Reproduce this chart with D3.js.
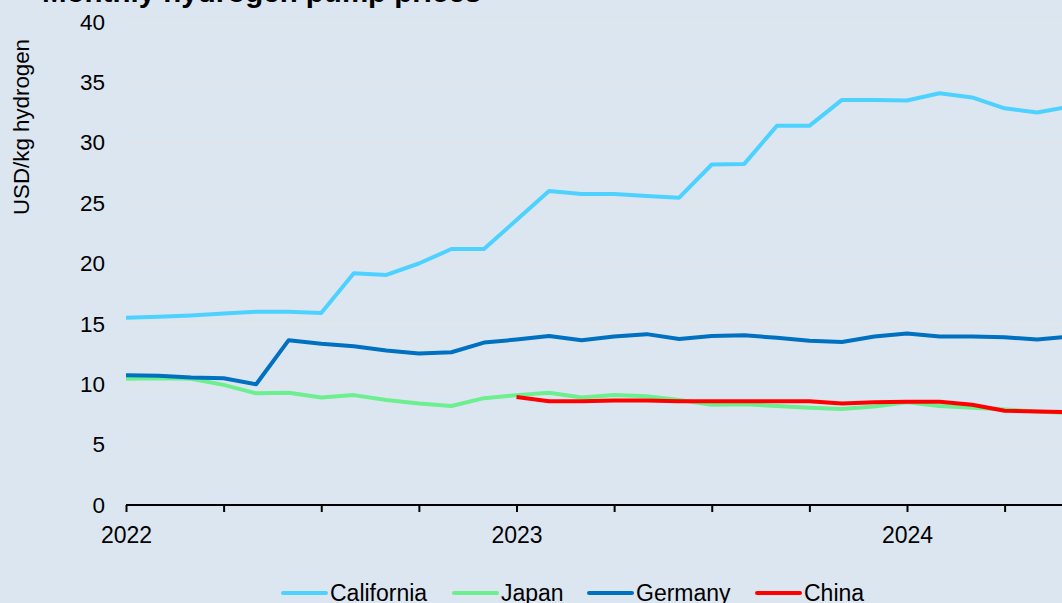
<!DOCTYPE html>
<html>
<head>
<meta charset="utf-8">
<script src="https://cdn.jsdelivr.net/npm/d3@7"></script>
<style>
  html, body { margin: 0; padding: 0; background: #dce6f1; }
  svg { display: block; font-family: "Liberation Sans", Arial, sans-serif; }
</style>
</head>
<body>
<svg id="chart" width="1062" height="603"></svg>
<script>
// Monthly observations, Jan 2022 onwards
var months = [
  "2022-01", "2022-02", "2022-03", "2022-04", "2022-05", "2022-06",
  "2022-07", "2022-08", "2022-09", "2022-10", "2022-11", "2022-12",
  "2023-01", "2023-02", "2023-03", "2023-04", "2023-05", "2023-06",
  "2023-07", "2023-08", "2023-09", "2023-10", "2023-11", "2023-12",
  "2024-01", "2024-02", "2024-03", "2024-04", "2024-05", "2024-06"
];

var california = [15.5, 15.6, 15.7, 15.85, 16.0, 16.0, 15.9, 19.2, 19.05, 20.0, 21.2, 21.2,
  23.6, 26.0, 25.75, 25.75, 25.6, 25.45, 28.2, 28.25, 31.4, 31.4, 33.55, 33.55,
  33.5, 34.1, 33.75, 32.85, 32.5, 33.0];
var japan = [10.45, 10.5, 10.45, 9.95, 9.25, 9.3, 8.9, 9.1, 8.7, 8.4, 8.2, 8.85,
  9.1, 9.3, 8.9, 9.1, 9.0, 8.7, 8.3, 8.35, 8.2, 8.05, 7.95, 8.15,
  8.5, 8.2, 8.05, 7.9, 7.75, 7.6];
var germany = [10.75, 10.7, 10.55, 10.5, 10.0, 13.65, 13.35, 13.15, 12.8, 12.55, 12.65, 13.45,
  13.7, 14.0, 13.65, 13.95, 14.15, 13.75, 14.0, 14.05, 13.85, 13.6, 13.5, 13.95,
  14.2, 13.95, 13.95, 13.9, 13.7, 13.95];
var china = [null, null, null, null, null, null, null, null, null, null, null, null,
  8.95, 8.6, 8.6, 8.65, 8.65, 8.6, 8.6, 8.6, 8.6, 8.6, 8.4, 8.5,
  8.55, 8.55, 8.3, 7.8, 7.75, 7.7];

var seriesNames = ["California", "Japan", "Germany", "China"];
var seriesValues = [california, japan, germany, china];
var seriesColors = ["#4dd2ff", "#6cef8e", "#0070c0", "#ff0000"];

var yTicks = [0, 5, 10, 15, 20, 25, 30, 35, 40];
var xTickMonths = [0, 3, 6, 9, 12, 15, 18, 21, 24, 27];
var xLabels = {0: "2022", 12: "2023", 24: "2024"};

var svg = d3.select("#chart");

var x = d3.scaleLinear().domain([0, 12]).range([126, 516.5]);
var y = d3.scaleLinear().domain([0, 40]).range([505, 22]);

// Title (partly cut off at the top, as in the source)
svg.append("text")
  .attr("x", 42)
  .attr("y", 2)
  .attr("font-size", 29.5)
  .attr("font-weight", "bold")
  .attr("fill", "#000")
  .text("Monthly hydrogen pump prices");

// Gridlines
svg.append("g")
  .attr("class", "grid")
  .selectAll("line")
  .data(yTicks.filter(d => d > 0))
  .enter()
  .append("line")
  .attr("x1", 126)
  .attr("x2", 1062)
  .attr("y1", d => y(d))
  .attr("y2", d => y(d))
  .attr("stroke", "#e4e4e6")
  .attr("stroke-width", 1.5);

// Y axis labels
var yAxis = svg.append("g")
  .attr("transform", "translate(105,0)")
  .call(d3.axisLeft(y).tickValues(yTicks).tickSize(0).tickPadding(0));
yAxis.select(".domain").remove();
yAxis.selectAll("text")
  .attr("font-size", 22.5)
  .attr("font-family", "Liberation Sans, Arial, sans-serif")
  .attr("fill", "#000");

// Y axis title
svg.append("text")
  .attr("transform", "translate(29,215) rotate(-90)")
  .attr("font-size", 22.3)
  .attr("fill", "#000")
  .text("USD/kg hydrogen");

// X axis
var xAxis = svg.append("g")
  .attr("transform", "translate(0," + y(0) + ")")
  .call(d3.axisBottom(x)
    .tickValues(xTickMonths)
    .tickSize(7)
    .tickSizeOuter(0)
    .tickPadding(15)
    .tickFormat(d => xLabels[d] || ""));
xAxis.select(".domain")
  .attr("d", "M" + x(0) + ",0H1062")
  .attr("stroke", "#000")
  .attr("stroke-width", 2);
xAxis.selectAll(".tick line").attr("stroke", "#000").attr("stroke-width", 2);
xAxis.selectAll("text")
  .attr("font-size", 23)
  .attr("font-family", "Liberation Sans, Arial, sans-serif")
  .attr("fill", "#000");

// Series lines
var line = d3.line()
  .defined(d => d != null)
  .x((d, i) => x(i))
  .y(d => y(d));

svg.append("g")
  .attr("class", "lines")
  .selectAll("path")
  .data(seriesValues)
  .enter()
  .append("path")
  .attr("d", d => line(d))
  .attr("fill", "none")
  .attr("stroke", (d, i) => seriesColors[i])
  .attr("stroke-width", 4)
  .attr("stroke-linejoin", "round");

// Legend
var legendX = [283, 454, 589, 757];
var legend = svg.append("g")
  .attr("class", "legend")
  .selectAll("g")
  .data(seriesNames)
  .enter()
  .append("g")
  .attr("transform", (d, i) => "translate(" + legendX[i] + ",593)");

legend.append("line")
  .attr("x1", 0)
  .attr("x2", 43)
  .attr("stroke", (d, i) => seriesColors[i])
  .attr("stroke-width", 4)
  .attr("stroke-linecap", "round");

legend.append("text")
  .attr("x", 47)
  .attr("y", 8)
  .attr("font-size", 23)
  .attr("fill", "#000")
  .text(d => d);
</script>
</body>
</html>
